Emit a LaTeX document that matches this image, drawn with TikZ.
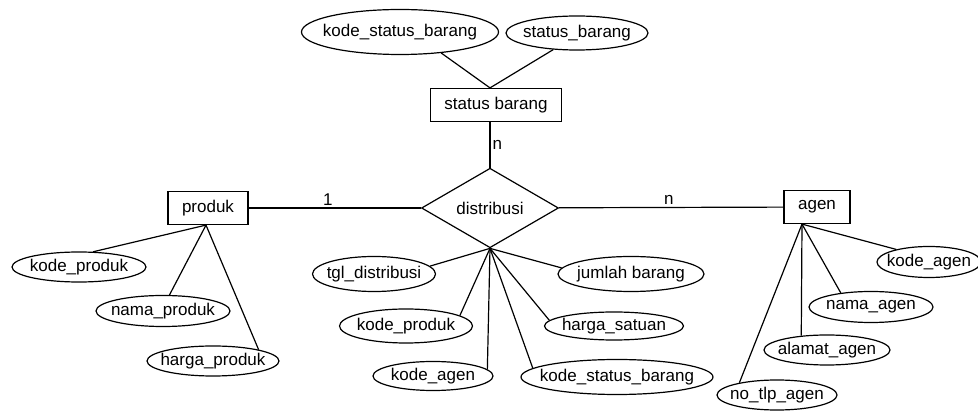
\documentclass[tikz,border=0pt]{standalone}
\usepackage{fontspec}
\setmainfont{Liberation Sans}
\usetikzlibrary{shapes.geometric}

\tikzset{
	entity/.style={draw, rectangle, line width=1.2pt, inner xsep=14pt, minimum height=33pt},
	relation/.style={draw, diamond, line width=1.2pt, inner sep=0pt, minimum width=137pt, minimum height=76pt},
	attr/.style 2 args={draw, ellipse, line width=1.2pt, inner sep=0pt, minimum width=#1, minimum height=#2,
		execute at begin node={\hbox to 0pt\bgroup\hss}, execute at end node={\hss\egroup}},
	conn/.style={line width=1.2pt},
	card/.style={inner sep=2pt}
}

\begin{document}
\begin{tikzpicture}[x=1pt, y=-1pt, font=\fontsize{17}{20}\selectfont]
	\useasboundingbox (0,0) rectangle (978,411);

	\node[entity] (statusbrg) at (496,105) {status barang};
	\node[relation] (distribusi) at (490,208) {distribusi};
	\node[entity] (produk) at (208,208) {produk};
	\node[entity] (agen) at (817,207) {agen};

	\node[attr={197pt}{45pt}] (kdstatus) at (400,32) {kode\_status\_barang};
	\node[attr={142pt}{34pt}] (stsbrg) at (577,33) {status\_barang};

	\node[attr={134pt}{30pt}] (kdprod) at (79,267) {kode\_produk};
	\node[attr={134pt}{31pt}] (nmprod) at (163,311) {nama\_produk};
	\node[attr={132pt}{30pt}] (hrgprod) at (213,361) {harga\_produk};

	\node[attr={123pt}{35pt}] (tgldist) at (374,274) {tgl\_distribusi};
	\node[attr={133pt}{34pt}] (dkdprod) at (406,326) {kode\_produk};
	\node[attr={120pt}{29pt}] (dkdagen) at (433,376) {kode\_agen};
	\node[attr={192pt}{35pt}] (dkdstatus) at (617,377) {kode\_status\_barang};
	\node[attr={139pt}{28pt}] (hrgsat) at (614,326) {harga\_satuan};
	\node[attr={146pt}{35pt}] (jmlbrg) at (631,274) {jumlah barang};

	\node[attr={104pt}{31pt}] (kdagen) at (929,262) {kode\_agen};
	\node[attr={124pt}{31pt}] (nmagen) at (871,307) {nama\_agen};
	\node[attr={126pt}{30pt}] (almagen) at (827,350) {alamat\_agen};
	\node[attr={120pt}{30pt}] (tlpagen) at (777,395) {no\_tlp\_agen};

	\draw[conn] (produk) -- node[card, above, pos=0.46] {1} (distribusi);
	\draw[conn] (distribusi) -- node[card, above, pos=0.49] {n} (agen);
	\draw[conn] (distribusi.north) -- node[card, right, pos=0.5] {n} (distribusi.north |- statusbrg.south);

	\draw[conn] ([xshift=-6pt]statusbrg.north) -- (kdstatus.333);
	\draw[conn] ([xshift=-6pt]statusbrg.north) -- (stsbrg.215);

	\draw[conn] ([xshift=-2pt]produk.south) -- (kdprod.47);
	\draw[conn] ([xshift=-2pt]produk.south) -- (nmprod.68);
	\draw[conn] ([xshift=-2pt]produk.south) -- (hrgprod.14);

	\draw[conn] (distribusi.south) -- (tgldist.8);
	\draw[conn] (distribusi.south) -- (dkdprod.11);
	\draw[conn] (distribusi.south) -- (dkdagen.7);
	\draw[conn] (distribusi.south) -- (dkdstatus.174);
	\draw[conn] (distribusi.south) -- (hrgsat.175);
	\draw[conn] (distribusi.south) -- (jmlbrg.175);

	\draw[conn] ([xshift=-15pt]agen.south) -- (kdagen.159);
	\draw[conn] ([xshift=-15pt]agen.south) -- (nmagen.155);
	\draw[conn] ([xshift=-15pt]agen.south) -- (almagen.151);
	\draw[conn] ([xshift=-15pt]agen.south) -- (tlpagen.162);
\end{tikzpicture}
\end{document}
